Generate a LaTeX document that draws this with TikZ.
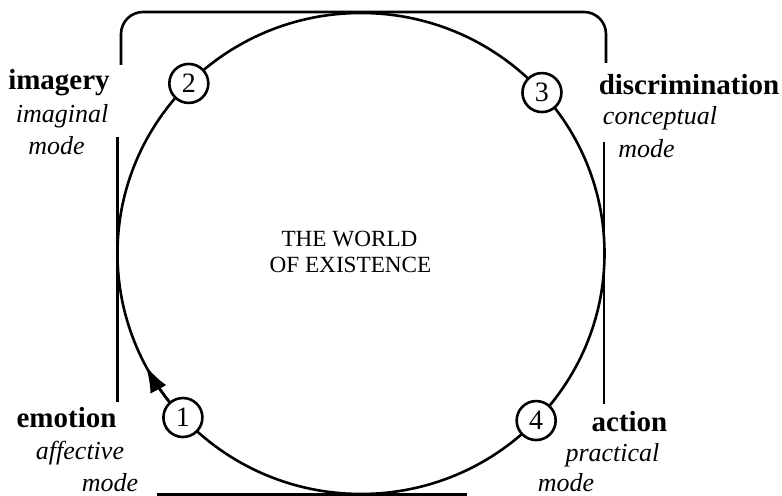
\documentclass[tikz,border=0pt]{standalone}
\usepackage{fontspec}
\setmainfont{Liberation Serif}
\usetikzlibrary{arrows.meta}
\tikzset{
  numcirc/.style={circle, draw, fill=white, minimum size=19.5pt, inner sep=0pt,
    font=\fontsize{14}{14}\selectfont},
  headlbl/.style={anchor=base, inner sep=0pt, font=\fontsize{14.5}{16}\selectfont\bfseries},
  modelbl/.style={anchor=base, inner sep=0pt, font=\fontsize{13}{15}\selectfont\itshape},
  worldlbl/.style={anchor=base, inner sep=0pt, font=\fontsize{11.6}{13}\selectfont},
}
\begin{document}
\begin{tikzpicture}[x=0.5pt, y=0.5pt, line width=1.3pt]
  \useasboundingbox (0,0) rectangle (782,496);
  \coordinate (ctr) at (361,242.5);
  \draw[rounded corners=11pt] (121,431) -- (121,484) -- (606,484) -- (606,433);
  \draw (117.5,359) -- (117.5,94);
  \draw (604,354) -- (604,92);
  \draw (157,1.5) -- (467,1.5);
  \draw (ctr) ellipse [x radius=243.5, y radius=240.5];
  \path (ctr) ++(218:243.5 and 240.5) coordinate (arrbase);
  \draw[-{Latex[length=13pt,width=9pt]}] (arrbase)
    arc[start angle=218, end angle=208, x radius=243.5, y radius=240.5];
  \foreach \n/\a in {1/223, 2/135, 3/42, 4/316}
    \path (ctr) ++(\a:243.5 and 240.5) node[numcirc] (n\n) {\n};
  \node[headlbl] (imag) at (59,406) {imagery};
  \node[modelbl] (imagm) at (62,373) {imaginal};
  \node[modelbl] (imagmd) at (56.5,341) {mode};
  \node[headlbl] (disc) at (689,401) {discrimination};
  \node[modelbl] (discm) at (660,371) {conceptual};
  \node[modelbl] (discmd) at (646.5,338) {mode};
  \node[headlbl] (emot) at (66.5,68) {emotion};
  \node[modelbl] (emotm) at (80,36) {affective};
  \node[modelbl] (emotmd) at (110,4) {mode};
  \node[headlbl] (act) at (629.5,64) {action};
  \node[modelbl] (actm) at (612.5,34) {practical};
  \node[modelbl] (actmd) at (566,4) {mode};
  \node[worldlbl] (world1) at (349.5,249) {THE WORLD};
  \node[worldlbl] (world2) at (350.5,223) {OF EXISTENCE};
\end{tikzpicture}
\end{document}
